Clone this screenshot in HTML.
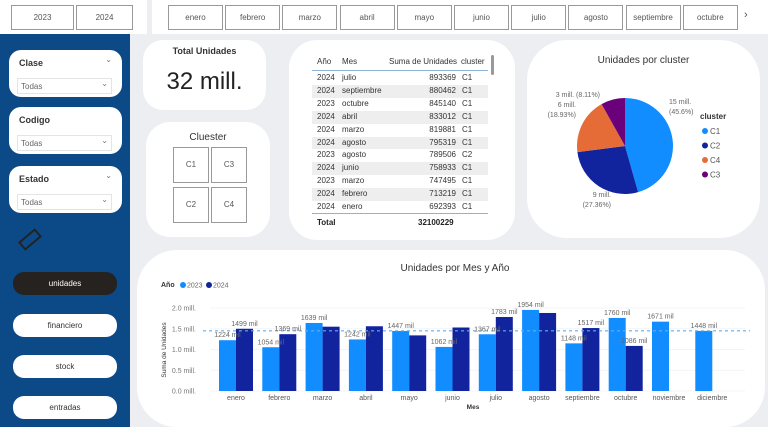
<!DOCTYPE html>
<html><head><meta charset="utf-8"><style>
*{box-sizing:border-box;margin:0;padding:0}
body{width:768px;height:427px;overflow:hidden;background:#eceef2;font-family:"Liberation Sans",sans-serif;position:relative}
.abs{position:absolute}
.card{position:absolute;background:#fff;border-radius:28px}
.box{position:absolute;border:1px solid #999;background:#fff;font-size:8px;color:#555;text-align:center}
.sl{position:absolute;background:#fff;border-radius:12px;left:9px;width:113px}
.sl .t{position:absolute;left:10px;top:8px;font-size:9px;font-weight:bold;color:#333}
.sl .d{position:absolute;left:8px;right:10px;top:28px;height:16px;border:1px solid #e4e4e4;font-size:8px;color:#666;padding:3px 0 0 3px}
.chev{position:absolute;font-size:8px;color:#777}
.btn{position:absolute;left:13px;width:104px;height:23px;border-radius:11px;background:#fff;font-size:8px;color:#333;text-align:center;line-height:23px}
.row{position:absolute;left:312px;width:176px;height:15px;font-size:8px;color:#333;line-height:15px}
</style></head><body>
<div class="abs" style="left:0;top:0;width:147px;height:34px;background:#fff"></div>
<div class="box" style="left:11px;top:5px;width:63px;height:25px;line-height:23px">2023</div>
<div class="box" style="left:76px;top:5px;width:57px;height:25px;line-height:23px">2024</div>
<div class="abs" style="left:152px;top:0;width:616px;height:34px;background:#fff"></div>
<div id="months"></div>
<div class="abs" style="left:744px;top:9px;font-size:11px;color:#555">&#8250;</div>

<div class="abs" style="left:0;top:34px;width:130px;height:393px;background:#0c4a87"></div>
<div class="sl" style="top:50px;height:47px"><div class="t">Clase</div><div class="chev" style="right:10px;top:5px">&#8964;</div><div class="d">Todas<span class="chev" style="right:3px;top:0">&#8964;</span></div></div>
<div class="sl" style="top:107px;height:47px"><div class="t">Codigo</div><div class="d">Todas<span class="chev" style="right:3px;top:0">&#8964;</span></div></div>
<div class="sl" style="top:166px;height:47px"><div class="t">Estado</div><div class="chev" style="right:10px;top:5px">&#8964;</div><div class="d">Todas<span class="chev" style="right:3px;top:0">&#8964;</span></div></div>
<div class="abs" style="left:19px;top:234px;width:22px;height:11px;border:2px solid #222;transform:rotate(-40deg)"></div>
<div class="btn" style="top:272px;background:#252220;color:#fff">unidades</div>
<div class="btn" style="top:314px">financiero</div>
<div class="btn" style="top:355px">stock</div>
<div class="btn" style="top:396px">entradas</div>

<div class="card" style="left:143px;top:40px;width:123px;height:70px;border-radius:20px">
<div class="abs" style="left:0;right:0;top:6px;text-align:center;font-size:9px;font-weight:bold;color:#333">Total Unidades</div>
<div class="abs" style="left:0;right:0;top:28px;text-align:center;font-size:24px;color:#222">32 mill.</div></div>
<div class="card" style="left:146px;top:122px;width:124px;height:115px;border-radius:24px">
<div class="abs" style="left:0;right:0;top:10px;text-align:center;font-size:10px;color:#333">Cluester</div></div>
<div class="box" style="left:173px;top:147px;width:36px;height:36px;line-height:34px">C1</div>
<div class="box" style="left:211px;top:147px;width:36px;height:36px;line-height:34px">C3</div>
<div class="box" style="left:173px;top:187px;width:36px;height:36px;line-height:34px">C2</div>
<div class="box" style="left:211px;top:187px;width:36px;height:36px;line-height:34px">C4</div>

<div class="card" style="left:289px;top:40px;width:226px;height:200px"></div>
<div class="abs" style="left:312px;top:55px;width:176px;height:16px;font-size:8px;color:#333;border-bottom:1px solid #8ab4dc">
<span class="abs" style="left:5px;top:2px">Año</span><span class="abs" style="left:30px;top:2px">Mes</span><span class="abs" style="left:77px;top:2px">Suma de Unidades</span><span class="abs" style="left:149px;top:2px">cluster</span></div>
<div id="rows"></div>
<div class="abs" style="left:312px;top:213px;width:176px;border-top:1px solid #8ab4dc"></div>
<div class="abs" style="left:491px;top:55px;width:3px;height:20px;background:#999;border-radius:2px"></div>
<div class="abs" style="left:317px;top:218px;font-size:8px;font-weight:bold;color:#222">Total</div>
<div class="abs" style="left:418px;top:218px;font-size:8px;font-weight:bold;color:#222">32100229</div>

<div class="card" style="left:527px;top:40px;width:233px;height:198px;border-radius:40px">
<div class="abs" style="left:0;right:0;top:15px;text-align:center;font-size:10px;color:#333">Unidades por cluster</div></div>
<svg class="abs" style="left:0;top:0" width="768" height="427" id="pie"></svg>

<div class="card" style="left:137px;top:250px;width:628px;height:177px;border-radius:40px"></div>
<svg class="abs" style="left:0;top:0" width="768" height="427" id="bars"></svg>

<script>
const NS="http://www.w3.org/2000/svg";
function mk(p,tag,attrs,txt){const e=document.createElementNS(NS,tag);for(const k in attrs)e.setAttribute(k,attrs[k]);if(txt!==undefined)e.textContent=txt;p.appendChild(e);return e;}
const sliceMonths=["enero","febrero","marzo","abril","mayo","junio","julio","agosto","septiembre","octubre"];
const mw=document.getElementById('months');
sliceMonths.forEach((m,i)=>{const d=document.createElement('div');d.className='box';d.style.cssText=`left:${168+i*57.2}px;top:5px;width:55px;height:25px;line-height:23px`;d.textContent=m;


mw.appendChild(d);});
const tYears=[2024,2024,2023,2024,2024,2024,2023,2024,2023,2024,2024];
const tMonths=["julio","septiembre","octubre","abril","marzo","agosto","agosto","junio","marzo","febrero","enero"];
const tVals=[893369,880462,845140,833012,819881,795319,789506,758933,747495,713219,692393];
const tClus=["C1","C1","C1","C1","C1","C1","C2","C1","C1","C1","C1"];
const rw=document.getElementById('rows');
tVals.forEach((v,i)=>{const r=document.createElement('div');r.className='row';r.style.top=(72+i*12.9)+'px';r.style.height='12.9px';r.style.lineHeight='12.9px';
if(i%2==1)r.style.background='#eeeeee';
r.innerHTML=`<span class="abs" style="left:5px">${tYears[i]}</span><span class="abs" style="left:30px">${tMonths[i]}</span><span class="abs" style="right:32px">${v}</span><span class="abs" style="left:150px">${tClus[i]}</span>`;


rw.appendChild(r);});
const pieLabels=["C1","C2","C4","C3"];
const pieVals=[45.6,27.36,18.93,8.11];
const pieText=["15 mill.","9 mill.","6 mill.","3 mill."];
const pieColors=["#118dff","#12239e","#e66c37","#6b007b"];
const pie=document.getElementById('pie');
const cx=625,cy=146,R=48;let a=0;const tot=pieVals.reduce((s,v)=>s+v,0);
pieVals.forEach((v,i)=>{const a1=a+v/tot*2*Math.PI;
const x0=cx+R*Math.sin(a),y0=cy-R*Math.cos(a),x1=cx+R*Math.sin(a1),y1=cy-R*Math.cos(a1);
const p=mk(pie,'path',{d:`M${cx},${cy}L${x0},${y0}A${R},${R} 0 ${a1-a>Math.PI?1:0} 1 ${x1},${y1}Z`,fill:pieColors[i]});


a=a1;});
const pl=[[669,104,"start"],[611,197,"end"],[576,107,"end"],[600,97,"end"]];
pieVals.forEach((v,i)=>{const [x,y,an]=pl[i];
if(i==3){mk(pie,'text',{x:x,y:y,'font-size':7,fill:'#666','text-anchor':an},pieText[i]+" ("+v+"%)");}
else{mk(pie,'text',{x:x,y:y,'font-size':7,fill:'#666','text-anchor':an},pieText[i]);mk(pie,'text',{x:x,y:y+10,'font-size':7,fill:'#666','text-anchor':an},"("+v+"%)");}});
mk(pie,'text',{x:700,y:119,'font-size':8,'font-weight':'bold',fill:'#333'},'cluster');
pieLabels.forEach((l,i)=>{mk(pie,'circle',{cx:705,cy:131+i*14.5,r:3,fill:pieColors[i]});mk(pie,'text',{x:710,y:134+i*14.5,'font-size':8,fill:'#555'},l);});
const months=["enero","febrero","marzo","abril","mayo","junio","julio","agosto","septiembre","octubre","noviembre","diciembre"];
const v2023=[1224,1054,1639,1242,1447,1062,1367,1954,1148,1760,1671,1448];
const v2024=[1499,1369,1550,1560,1340,1530,1783,1880,1517,1086,null,null];
const avgLine=1450;
const yTicks=[0,500,1000,1500,2000];
const yTickLabels=["0.0 mill.","0.5 mill.","1.0 mill.","1.5 mill.","2.0 mill."];
const lab2023=[1,1,1,1,1,1,1,1,1,1,1,1];
const lab2024=[1,1,0,0,0,0,1,0,1,1,0,0];
const svg=document.getElementById('bars');
const Y=v=>391-v*83/2000, X=i=>236+i*43.3;
mk(svg,'text',{x:455,y:271,'font-size':10,fill:'#333','text-anchor':'middle'},'Unidades por Mes y Año');
mk(svg,'text',{x:161,y:287,'font-size':7,'font-weight':'bold',fill:'#333'},'Año');
mk(svg,'circle',{cx:183,cy:285,r:3,fill:'#118dff'});mk(svg,'text',{x:187,y:287.5,'font-size':7,fill:'#666'},'2023');
mk(svg,'circle',{cx:209,cy:285,r:3,fill:'#12239e'});mk(svg,'text',{x:213,y:287.5,'font-size':7,fill:'#666'},'2024');
yTicks.forEach((t,i)=>{mk(svg,'line',{x1:210,x2:745,y1:Y(t),y2:Y(t),stroke:'#f0f0f0','stroke-width':0.8});
mk(svg,'text',{x:196,y:Y(t)+2.5,'font-size':7,fill:'#777','text-anchor':'end'},yTickLabels[i]);});
mk(svg,'text',{x:0,y:0,'font-size':6.5,fill:'#333','text-anchor':'middle',transform:'translate(166,350) rotate(-90)'},'Suma de Unidades');
mk(svg,'text',{x:473,y:409,'font-size':6.5,'font-weight':'bold',fill:'#333','text-anchor':'middle'},'Mes');
months.forEach((m,i)=>{const cxm=X(i);
const b1=mk(svg,'rect',{x:cxm-17,y:Y(v2023[i]),width:17,height:391-Y(v2023[i]),fill:'#118dff'});


if(v2024[i]!=null){const b2=mk(svg,'rect',{x:cxm,y:Y(v2024[i]),width:17,height:391-Y(v2024[i]),fill:'#12239e'});

}
mk(svg,'text',{x:cxm,y:400,'font-size':7,fill:'#555','text-anchor':'middle'},m);});
mk(svg,'line',{x1:203,x2:750,y1:Y(avgLine),y2:Y(avgLine),stroke:'#64aee8','stroke-width':1.2,'stroke-dasharray':'3,3'});
months.forEach((m,i)=>{const cxm=X(i);
if(lab2023[i])mk(svg,'text',{x:cxm-8.5,y:Y(v2023[i])-3,'font-size':7,fill:'#666','text-anchor':'middle'},v2023[i]+' mil');
if(lab2024[i]&&v2024[i]!=null)mk(svg,'text',{x:cxm+8.5,y:Y(v2024[i])-3,'font-size':7,fill:'#666','text-anchor':'middle'},v2024[i]+' mil');});
</script>
</body></html>
